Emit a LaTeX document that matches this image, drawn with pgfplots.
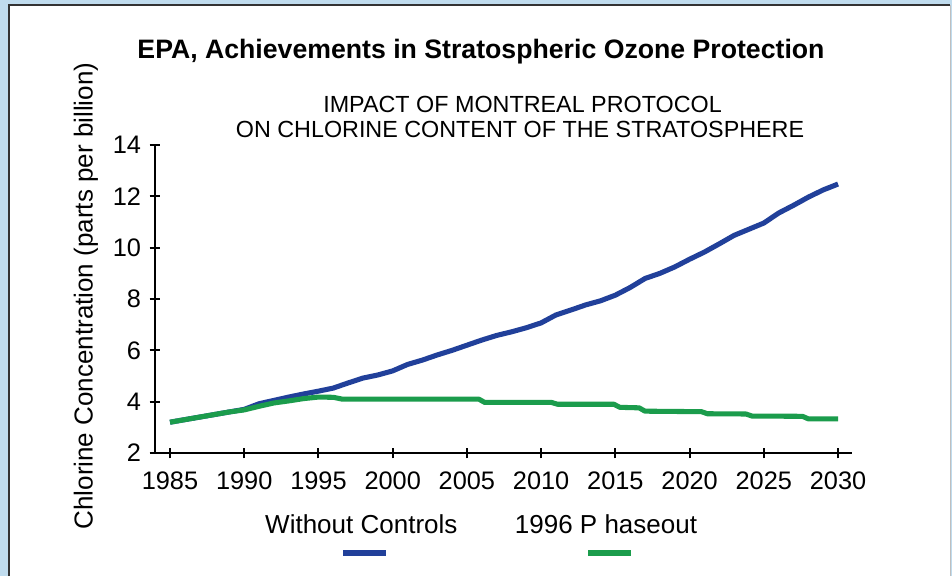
\documentclass[border=0pt]{standalone}
\usepackage{fontspec}
\setmainfont{Liberation Sans}
\usepackage{pgfplots}
\pgfplotsset{compat=1.18}

\definecolor{framebg}{HTML}{C0DCEE}
\definecolor{noctrl}{HTML}{21409A}
\definecolor{phase}{HTML}{1B9C4C}

\begin{document}
\begin{tikzpicture}
% page is 952 x 576 px, 1 px = 0.75pt
\useasboundingbox (0,0) rectangle (714pt,-432pt);
\fill[framebg] (0,0) rectangle (714pt,-432pt);
\fill[white] (6.75pt,-3.75pt) rectangle (712.5pt,-432pt);
\draw[black!80, line width=1.5pt] (6.75pt,-432pt) -- (6.75pt,-3.75pt) -- (712.5pt,-3.75pt);
\draw[black!25, line width=0.75pt] (712.5pt,-3.75pt) -- (712.5pt,-432pt);

\node[anchor=base, font=\fontsize{20}{24}\selectfont\bfseries] at (360.75pt,-43.5pt)
  {EPA, Achievements in Stratospheric Ozone Protection};
\node[anchor=base, font=\fontsize{17.5}{21}\selectfont] at (391.9pt,-84pt)
  {IMPACT OF MONTREAL PROTOCOL};
\node[anchor=base, font=\fontsize{17.5}{21}\selectfont] at (390pt,-102.75pt)
  {ON CHLORINE CONTENT OF THE STRATOSPHERE};
\node[rotate=90, font=\fontsize{19.5}{23}\selectfont] at (64.5pt,-222pt)
  {Chlorine Concentration (parts per billion)};

\begin{axis}[
  at={(116.25pt,-339.75pt)}, anchor=south west,
  scale only axis,
  width=522.75pt, height=231pt,
  xmin=1983.99, xmax=2030.94,
  ymin=2, ymax=14,
  axis x line*=bottom, axis y line*=left,
  axis line style={line width=1.5pt, black},
  xtick={1985,1990,...,2030},
  ytick={2,4,...,14},
  tick align=center,
  major tick length=8pt,
  tick style={line width=1.5pt, black},
  tick label style={font=\fontsize{19}{22}\selectfont},
  /pgf/number format/1000 sep={},
  /pgf/number format/assume math mode=true,
  xticklabel style={yshift=-6.5pt},
  yticklabel style={xshift=-3pt},
  clip=false,
]
  % Without Controls
  \addplot[noctrl, line width=3.8pt, line join=round] coordinates {
    (1985,3.2) (1986,3.3) (1987,3.4) (1988,3.5) (1989,3.6) (1990,3.7)
    (1991,3.92) (1992,4.05) (1993,4.18) (1994,4.3) (1995,4.41)
    (1996,4.53) (1997,4.73) (1998,4.92) (1999,5.04) (2000,5.2)
    (2001,5.45) (2002,5.62) (2003,5.82) (2004,6.0) (2005,6.2)
    (2006,6.4) (2007,6.58) (2008,6.72) (2009,6.88) (2010,7.07)
    (2011,7.38) (2012,7.57) (2013,7.77) (2014,7.93) (2015,8.15)
    (2016,8.45) (2017,8.8) (2018,9.0) (2019,9.25) (2020,9.55)
    (2021,9.83) (2022,10.15) (2023,10.48) (2024,10.72) (2025,10.96)
    (2026,11.35) (2027,11.65) (2028,11.97) (2029,12.25) (2030,12.48)
  };
  % 1996 Phaseout
  \addplot[phase, line width=3.8pt, line join=round] coordinates {
    (1985,3.2) (1986,3.3) (1987,3.4) (1988,3.5) (1989,3.6) (1990,3.68)
    (1991,3.82) (1992,3.95) (1993,4.03) (1994,4.12) (1995,4.18)
    (1996,4.17) (1996.6,4.1) (2005.8,4.1) (2006.2,3.97) (2010.7,3.97)
    (2011.1,3.9) (2014.9,3.9) (2015.3,3.78) (2016.6,3.76) (2017.0,3.63)
    (2020.8,3.61) (2021.2,3.53) (2023.8,3.52) (2024.2,3.44)
    (2027.6,3.43) (2028.0,3.33) (2030,3.33)
  };
\end{axis}

% legend
\node[anchor=base, font=\fontsize{19.5}{23}\selectfont] at (271pt,-399.75pt) {Without Controls};
\node[anchor=base, font=\fontsize{19.5}{23}\selectfont] at (454.5pt,-399.75pt) {1996 P haseout};
\draw[noctrl, line width=4.5pt] (257.25pt,-414.75pt) -- (289.5pt,-414.75pt);
\draw[phase, line width=4.5pt] (441pt,-414.75pt) -- (473.25pt,-414.75pt);
\end{tikzpicture}
\end{document}
